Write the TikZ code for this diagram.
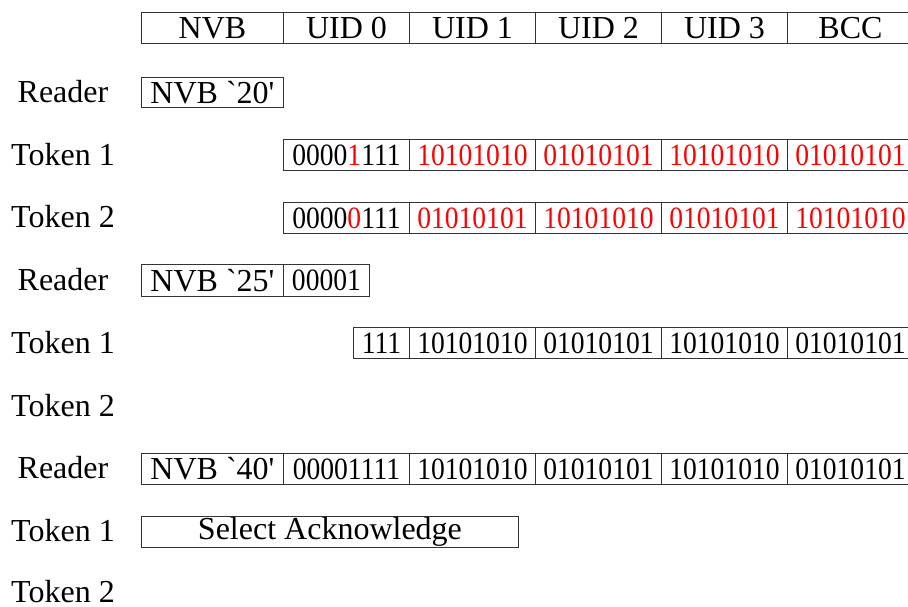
\documentclass[tikz,border=0pt]{standalone}
\usepackage{fontspec}
\setmainfont{Liberation Serif}
% same face, but ` and ' stay as typed (no curly quotes)
\newfontfamily\plainq{Liberation Serif}[Ligatures=TeXOff]
% slightly narrowed face for the bit strings
\newfontfamily\bitsfont{Liberation Serif}[FakeStretch=0.89]
\begin{document}
\begin{tikzpicture}[x=1pt,y=-1pt,
  cell/.style={draw=black!80, line width=0.9pt, inner sep=0pt, anchor=north west,
    font=\fontsize{32}{32}\selectfont},
  bits/.style={cell, font=\fontsize{31}{31}\bitsfont},
  red bits/.style={bits, text=red},
  rowlabel/.style={font=\fontsize{32}{32}\selectfont, anchor=center}]
\useasboundingbox (0,0) rectangle (908,606);

% header row
\node[cell, minimum width=142, minimum height=31] (hnvb) at (141,12) {NVB};
\node[cell, minimum width=126, minimum height=31] (huid0) at (283,12) {UID 0};
\node[cell, minimum width=126, minimum height=31] (huid1) at (409,12) {UID 1};
\node[cell, minimum width=126, minimum height=31] (huid2) at (535,12) {UID 2};
\node[cell, minimum width=126, minimum height=31] (huid3) at (661,12) {UID 3};
\node[cell, minimum width=126, minimum height=31] (hbcc) at (787,12) {BCC};

% row labels
\node[rowlabel] (l1) at (63,92) {Reader};
\node[rowlabel] (l2) at (63,155) {Token 1};
\node[rowlabel] (l3) at (63,217) {Token 2};
\node[rowlabel] (l4) at (63,280) {Reader};
\node[rowlabel] (l5) at (63,343) {Token 1};
\node[rowlabel] (l6) at (63,406) {Token 2};
\node[rowlabel] (l7) at (63,468) {Reader};
\node[rowlabel] (l8) at (63,531) {Token 1};
\node[rowlabel] (l9) at (63,592) {Token 2};

% first anticollision command
\node[cell, minimum width=142, minimum height=30] (r1) at (141,77) {NVB {\plainq `20'}};

% token answers, colliding bits in red
\node[bits, minimum width=126, minimum height=31] (t1a) at (283,139) {0000\textcolor{red}{1}111};
\node[red bits, minimum width=126, minimum height=31] (t1b) at (409,139) {10101010};
\node[red bits, minimum width=126, minimum height=31] (t1c) at (535,139) {01010101};
\node[red bits, minimum width=126, minimum height=31] (t1d) at (661,139) {10101010};
\node[red bits, minimum width=126, minimum height=31] (t1e) at (787,139) {01010101};

\node[bits, minimum width=126, minimum height=31] (t2a) at (283,202) {0000\textcolor{red}{0}111};
\node[red bits, minimum width=126, minimum height=31] (t2b) at (409,202) {01010101};
\node[red bits, minimum width=126, minimum height=31] (t2c) at (535,202) {10101010};
\node[red bits, minimum width=126, minimum height=31] (t2d) at (661,202) {01010101};
\node[red bits, minimum width=126, minimum height=31] (t2e) at (787,202) {10101010};

% second anticollision command with known bits
\node[cell, minimum width=142, minimum height=32] (r2a) at (141,264) {NVB {\plainq `25'}};
\node[bits, minimum width=86, minimum height=32] (r2b) at (283,264) {00001};

\node[bits, minimum width=56, minimum height=31] (t3a) at (353,327) {111};
\node[bits, minimum width=126, minimum height=31] (t3b) at (409,327) {10101010};
\node[bits, minimum width=126, minimum height=31] (t3c) at (535,327) {01010101};
\node[bits, minimum width=126, minimum height=31] (t3d) at (661,327) {10101010};
\node[bits, minimum width=126, minimum height=31] (t3e) at (787,327) {01010101};

% select command
\node[cell, minimum width=142, minimum height=31] (r3a) at (141,453) {NVB {\plainq `40'}};
\node[bits, minimum width=126, minimum height=31] (r3b) at (283,453) {00001111};
\node[bits, minimum width=126, minimum height=31] (r3c) at (409,453) {10101010};
\node[bits, minimum width=126, minimum height=31] (r3d) at (535,453) {01010101};
\node[bits, minimum width=126, minimum height=31] (r3e) at (661,453) {10101010};
\node[bits, minimum width=126, minimum height=31] (r3f) at (787,453) {01010101};

\node[cell, minimum width=377, minimum height=31] (sak) at (141,516) {Select Acknowledge};
\end{tikzpicture}
\end{document}
